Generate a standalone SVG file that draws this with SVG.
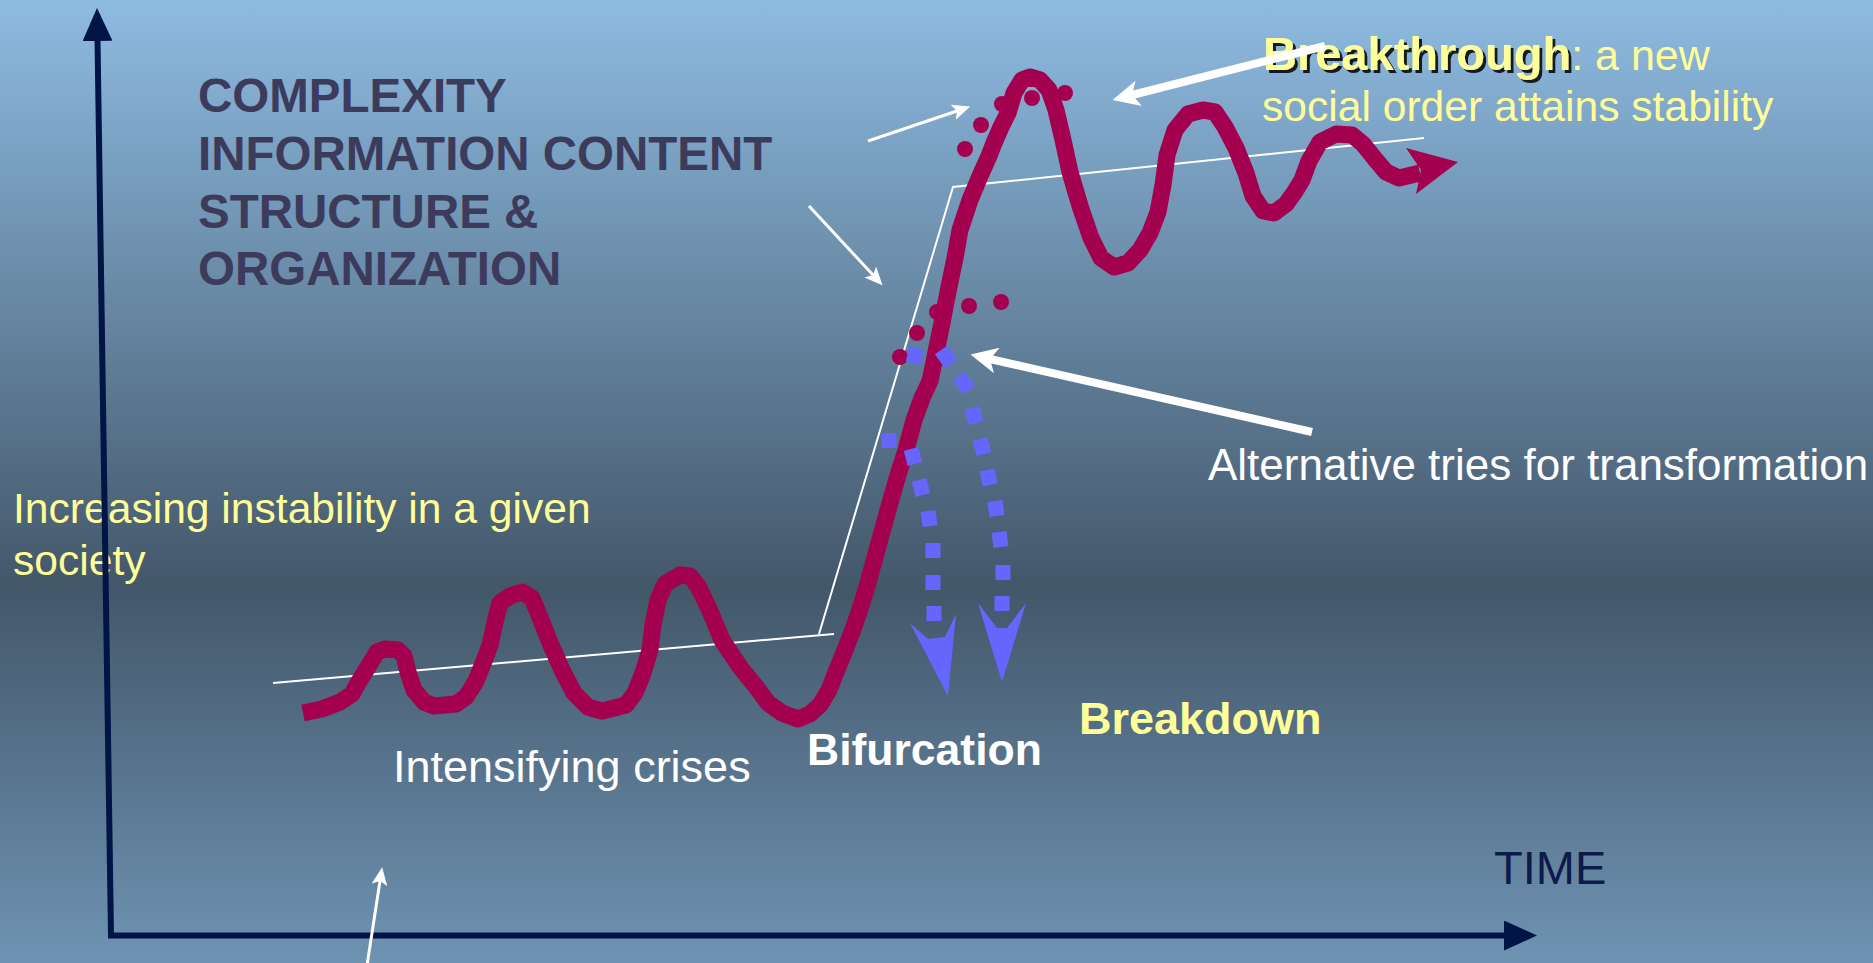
<svg xmlns="http://www.w3.org/2000/svg" width="1873" height="963" viewBox="0 0 1873 963">
  <defs>
    <linearGradient id="bg" x1="0" y1="0" x2="0" y2="1">
      <stop offset="0" stop-color="#8EBBE1"/>
      <stop offset="0.61" stop-color="#43576A"/>
      <stop offset="1" stop-color="#6E93B3"/>
    </linearGradient>
    <marker id="axisHead" markerUnits="userSpaceOnUse" markerWidth="34" markerHeight="30" viewBox="0 0 34 30" refX="1" refY="15" orient="auto">
      <path d="M0,0 L33,15 L0,30 z" fill="#001446"/>
    </marker>
    <marker id="thinHead" markerUnits="userSpaceOnUse" markerWidth="18" markerHeight="16" viewBox="0 0 18 16" refX="4" refY="8" orient="auto">
      <path d="M0,0 L18,8 L0,16 L4,8 z" fill="#FFFFFF"/>
    </marker>
    <marker id="thickHead" markerUnits="userSpaceOnUse" markerWidth="27" markerHeight="26" viewBox="0 0 27 26" refX="7" refY="13" orient="auto">
      <path d="M0,0 L27,13 L0,26 L7,13 z" fill="#FFFFFF"/>
    </marker>
    <filter id="shadow" x="-5%" y="-20%" width="110%" height="150%">
      <feDropShadow dx="3" dy="3" stdDeviation="0.6" flood-color="#000000" flood-opacity="0.85"/>
    </filter>
  </defs>
  <style>
    .sans { font-family: "Liberation Sans", Arial, sans-serif; }
    .bold { font-weight: bold; }
    .yellow { fill: #FFFF99; }
    .white { fill: #FFFFFF; }
    .axis { stroke: #001446; stroke-width: 6; fill: none; }
    .trend { stroke: #FFFFFF; stroke-width: 2; fill: none; }
    .curve { stroke: #A3004F; stroke-width: 17; fill: none; stroke-linejoin: round; stroke-linecap: butt; }
    .dot { fill: #A3004F; }
    .blue { stroke: #6666FF; stroke-width: 15; fill: none; stroke-linecap: butt; }
    .blueHead { fill: #6666FF; }
    .thin { stroke: #FFFFFF; stroke-width: 3; fill: none; marker-end: url(#thinHead); }
    .thick { stroke: #FFFFFF; stroke-width: 8; fill: none; marker-end: url(#thickHead); }
  </style>

  <rect id="background" x="0" y="0" width="1873" height="963" fill="url(#bg)"/>

  <g id="label-complexity" class="sans bold" font-size="47.5" fill="#3D3B5C">
    <text x="198" y="112">COMPLEXITY</text>
    <text x="198" y="170">INFORMATION CONTENT</text>
    <text x="198" y="228">STRUCTURE &amp;</text>
    <text x="198" y="285">ORGANIZATION</text>
  </g>

  <g id="label-instability" class="sans yellow" font-size="42.6">
    <text x="13" y="523">Increasing instability in a given</text>
    <text x="13" y="575">society</text>
  </g>

  <g id="axes">
    <path class="axis" d="M111,935 L97.5,40" marker-end="url(#axisHead)"/>
    <path class="axis" d="M108,935.5 L1505,935.5" marker-end="url(#axisHead)"/>
    <text class="sans" x="1494" y="884" font-size="47" fill="#0D1A4A">TIME</text>
  </g>

  <g id="trend-lines">
    <path class="trend" d="M273,683 L834,634"/>
    <path class="trend" d="M819,634 L953,187 L1424,138"/>
  </g>

  <g id="curve">
    <polyline class="curve" points="303,713 322,709 340,702 352,694 358,683 368,667 377,652 385,649 398,650 404,656 408,672 414,690 424,702 434,706 456,704 466,697 476,681 484,661 490,645 496,618 500,603 510,596 522,592 532,598 541,620 551,645 562,670 574,693 588,707 602,711 626,705 635,693 643,673 650,650 653,625 658,600 665,584 680,575 690,576 698,586 710,611 722,640 740,667 757,688 768,703 782,713 798,719 810,714 820,705 829,690 836,672 845,650 852,632 858,615 866,590 877,550 888,510 898,475 906,450 914,420 922,398 930,381 934,362 937,347 942,323 946,302 950,282 955,258 960,230 970,200 980,176 989,156 994,143 1001,127 1008,113 1014,93 1022,80 1030,77 1040,80 1049,90 1056,110 1063,140 1070,172 1080,206 1091,238 1101,258 1114,267 1128,263 1140,250 1150,233 1158,212 1163,185 1167,155 1175,130 1188,114 1203,110 1215,112 1225,127 1236,148 1246,173 1253,196 1263,211 1274,213 1286,204 1294,193 1302,180 1309,161 1320,142 1336,134 1352,135 1363,144 1375,159 1386,172 1399,178 1420,173"/>
    <polygon class="dot" points="1406,148 1458,162 1416,194 1421,170"/>
    <g id="dots">
      <circle class="dot" cx="965" cy="149" r="8"/>
      <circle class="dot" cx="981" cy="125" r="8"/>
      <circle class="dot" cx="1002" cy="104" r="8"/>
      <circle class="dot" cx="1032" cy="98" r="8"/>
      <circle class="dot" cx="1065" cy="93" r="8"/>
      <circle class="dot" cx="900" cy="357" r="8"/>
      <circle class="dot" cx="917" cy="333" r="8"/>
      <circle class="dot" cx="937" cy="312" r="8"/>
      <circle class="dot" cx="969" cy="306" r="8"/>
      <circle class="dot" cx="1001" cy="302" r="8"/>
    </g>
  </g>

  <g id="connectors">
    <g id="breakdown-left">
      <path class="blue" d="M917,348 L913,363 M889,433 L889,448 M911,449 L915,464 M919,480 L923,495 M928,511 L930,526 M933,543 L933,558 M933,575 L933,590 M934,606 L934,621"/>
      <polygon class="blueHead" points="910,623 928,639 945,637 956,614 948,696"/>
    </g>
    <g id="breakdown-right">
      <path class="blue" d="M941,350 L951,364 M959,376 L969,390 M972,408 L976,423 M980,439 L984,454 M987,470 L990,485 M995,501 L997,516 M999,532 L1001,547 M1003,565 L1003,580 M1002,596 L1002,611"/>
      <polygon class="blueHead" points="978,603 997,628 1007,628 1026,603 1002,682"/>
    </g>
    <path class="thin" d="M868,141 L957,111"/>
    <path class="thin" d="M809,206 L873,275"/>
    <path class="thin" d="M366,972 L380,881"/>
    <path class="thick" d="M1312,432 L990,359"/>
  </g>

  <g id="label-breakthrough" class="sans yellow">
    <text x="1263" y="70"><tspan class="bold" font-size="47" filter="url(#shadow)">Breakthrough</tspan><tspan font-size="43">: a new</tspan></text>
    <text x="1262" y="121" font-size="42.6">social order attains stability</text>
  </g>
  <path id="arrow-breakthrough" class="thick" d="M1325,46 L1132,95"/>

  <g id="label-alternative">
    <text class="sans white" x="1208" y="480" font-size="44">Alternative tries for transformation</text>
  </g>
  <g id="label-crises">
    <text class="sans white" x="393" y="782" font-size="45">Intensifying crises</text>
  </g>
  <g id="label-bifurcation">
    <text class="sans bold white" x="807" y="765" font-size="44.5">Bifurcation</text>
  </g>
  <g id="label-breakdown">
    <text class="sans bold yellow" x="1079" y="734" font-size="45">Breakdown</text>
  </g>
</svg>
